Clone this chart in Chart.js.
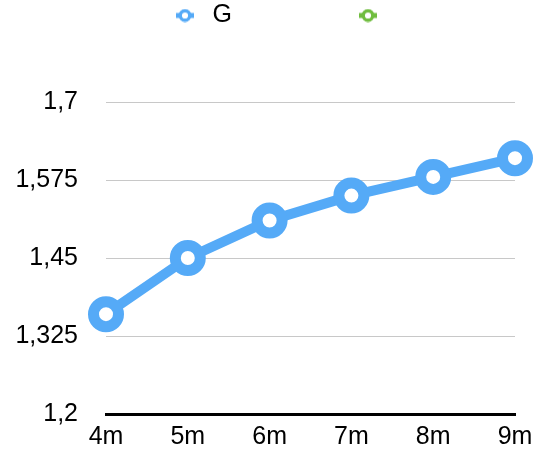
<!DOCTYPE html>
<html>
<head>
<meta charset="utf-8">
<style>
  html, body { margin: 0; padding: 0; background: #fff; }
  #wrap { width: 540px; height: 457px; }
</style>
<script src="https://cdn.jsdelivr.net/npm/chart.js@4/dist/chart.umd.min.js"></script>
</head>
<body>
<div id="wrap"><canvas id="chartG"></canvas></div>
<script>
// categorias y series
const meses = ['4m', '5m', '6m', '7m', '8m', '9m'];
const serieG = [1.36, 1.45, 1.51, 1.55, 1.58, 1.61];
const serieB = [null, null, null, null, null, null];
const nombres = ['G', ''];
const colores = ['#55aaf7', '#70bd3f'];
const ticksY = [1.2, 1.325, 1.45, 1.575, 1.7];

// icono de la leyenda: linea corta con circulo hueco
function iconoLeyenda(color) {
    const c = document.createElement('canvas');
    c.width = 20;
    c.height = 14;
    const g = c.getContext('2d');
    g.strokeStyle = color;
    g.lineWidth = 5;
    g.beginPath();
    g.moveTo(1, 7);
    g.lineTo(19, 7);
    g.stroke();
    g.beginPath();
    g.arc(10, 7, 4.8, 0, Math.PI * 2);
    g.fillStyle = '#fff';
    g.fill();
    g.lineWidth = 3.4;
    g.stroke();
    return c;
}

// espacio extra bajo la leyenda
const margenLeyenda = {
    id: 'margenLeyenda',
    beforeInit(chart) {
        const fitOriginal = chart.legend.fit;
        chart.legend.fit = function fit() {
            fitOriginal.bind(chart.legend)();
            this.height += 64;
        };
    }
};

document.addEventListener('DOMContentLoaded', function() {
    const ctx = document.getElementById('chartG').getContext('2d');
    const fuente = { family: '"Liberation Sans", Arial, Helvetica, sans-serif', size: 25 };

    new Chart(ctx, {
        type: 'line',
        data: {
            labels: meses,
            datasets: [
                {
                    label: nombres[0],
                    data: serieG,
                    borderColor: colores[0],
                    backgroundColor: colores[0],
                    borderWidth: 10,
                    pointRadius: 12.5,
                    pointBorderWidth: 11,
                    pointBackgroundColor: '#fff',
                    pointBorderColor: colores[0],
                    clip: false
                },
                {
                    label: nombres[1],
                    data: serieB,
                    borderColor: colores[1],
                    backgroundColor: colores[1],
                    borderWidth: 10,
                    pointRadius: 12.5,
                    pointBorderWidth: 11,
                    pointBackgroundColor: '#fff',
                    clip: false
                }
            ]
        },
        options: {
            responsive: true,
            maintainAspectRatio: false,
            animation: false,
            layout: {
                padding: { left: 0, right: 25, top: 0, bottom: 0 }
            },
            scales: {
                x: {
                    offset: false,
                    grid: { display: false },
                    border: { display: true, color: '#000', width: 3 },
                    ticks: { color: '#000', font: fuente, padding: 0, maxRotation: 0 },
                    afterFit: function(axis) { axis.height = 41; }
                },
                y: {
                    min: 1.2,
                    max: 1.7,
                    afterBuildTicks: function(axis) {
                        axis.ticks = ticksY.map(v => ({ value: v }));
                    },
                    afterFit: function(axis) { axis.width = 106; },
                    grid: { color: '#c8c8c8', lineWidth: 1, drawTicks: false },
                    border: { display: false },
                    ticks: {
                        color: '#000',
                        font: fuente,
                        padding: 28,
                        callback: v => String(v).replace('.', ',')
                    }
                }
            },
            plugins: {
                legend: {
                    position: 'top',
                    fullSize: false,
                    labels: {
                        usePointStyle: true,
                        pointStyleWidth: 30,
                        padding: 3,
                        color: '#000',
                        font: fuente,
                        // huecos en blanco para separar los elementos como en la figura
                        generateLabels: function(chart) {
                            const relleno = [17, 8];
                            return chart.data.datasets.map((ds, i) => ({
                                text: ds.label + ' '.repeat(relleno[i]),
                                fillStyle: colores[i],
                                strokeStyle: colores[i],
                                lineWidth: 0,
                                pointStyle: iconoLeyenda(colores[i]),
                                datasetIndex: i,
                                hidden: false
                            }));
                        }
                    }
                },
                tooltip: { enabled: false }
            }
        },
        plugins: [margenLeyenda]
    });
});
</script>
</body>
</html>
